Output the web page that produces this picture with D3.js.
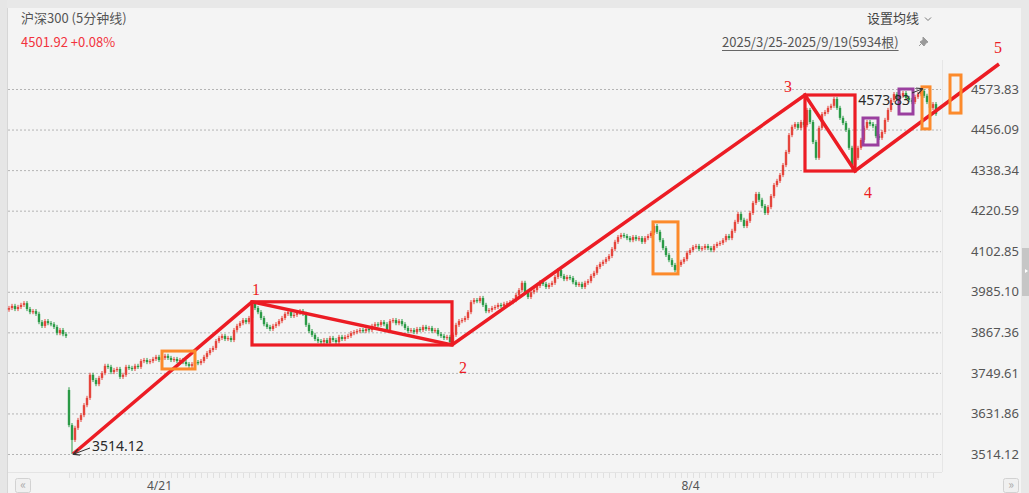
<!DOCTYPE html>
<html><head><meta charset="utf-8">
<script src="https://cdn.jsdelivr.net/npm/d3@7"></script>
<style>
html,body{margin:0;padding:0;background:#f4f4f4;overflow:hidden}
svg{display:block;font-family:"Noto Sans CJK SC","Noto Sans",sans-serif}
</style></head><body>
<svg id="chart" width="1029" height="493"></svg>
<script>
// ---- data (5-minute closes, sampled along the picture) ----
const closes = [
3938,3944,3935,3941,3947,3952,3935,3926,3929,3921,
3897,3886,3900,3894,3891,3883,3865,3874,3862,3857,
3598,3555,3590,3613,3627,3656,3677,3744,3729,3717,
3735,3749,3770,3767,3752,3758,3761,3738,3744,3767,
3764,3761,3770,3767,3784,3787,3781,3784,3790,3796,
3787,3793,3799,3793,3787,3790,3784,3787,3781,3775,
3770,3775,3781,3778,3784,3796,3807,3816,3822,3842,
3851,3857,3848,3851,3845,3874,3886,3894,3903,3897,
3909,3952,3938,3926,3909,3891,3883,3877,3886,3891,
3900,3909,3921,3926,3915,3918,3924,3929,3921,3889,
3871,3860,3848,3842,3839,3845,3836,3851,3845,3839,
3854,3848,3854,3857,3865,3868,3871,3874,3871,3877,
3874,3886,3891,3889,3897,3891,3874,3900,3903,3894,
3900,3891,3880,3871,3874,3868,3877,3874,3883,3877,
3880,3871,3874,3862,3857,3851,3854,3839,3860,3889,
3900,3903,3909,3926,3955,3961,3958,3967,3947,3929,
3932,3938,3941,3947,3944,3950,3952,3955,3961,3976,
3990,4011,3984,3970,3984,3990,4002,4013,4008,3999,
4005,4011,4028,4048,4031,4022,4028,4025,4013,4005,
4008,3999,4011,4016,4031,4040,4057,4066,4072,4080,
4089,4109,4130,4144,4150,4147,4141,4135,4144,4138,
4141,4130,4141,4147,4156,4176,4159,4135,4112,4092,
4077,4063,4048,4063,4072,4080,4098,4106,4115,4118,
4109,4112,4118,4112,4106,4118,4124,4127,4135,4147,
4141,4162,4188,4211,4194,4176,4191,4214,4243,4269,
4252,4234,4214,4231,4263,4295,4307,4324,4353,4391,
4440,4464,4472,4461,4478,4469,4513,4478,4420,4374,
4461,4501,4507,4519,4525,4545,4519,4490,4475,4455,
4403,4353,4374,4403,4426,4461,4478,4472,4466,4437,
4432,4449,4484,4513,4542,4559,4545,4554,4562,4548,
4542,4536,4551,4559,4568,4554,4536,4519,4530,4502
];
const firstOpen = 3933;
const gapIndex = [20];
const gapOpen = [3700];
const highIdx = [20, 81, 215, 304];
const highVal = [3708, 3958, 4182, 4573.83];
const lowIdx = [21, 147, 281];
const lowVal = [3514.12, 3833, 4338.6];

const yTicks = [3514.12, 3631.86, 3749.61, 3867.36, 3985.10, 4102.85, 4220.59, 4338.34, 4456.09, 4573.83];
const xTickIdx = [50, 227];
const xTickLabels = ["4/21", "8/4"];

// wave annotation points [index, price]
const wavePoints = [[21.33, 3514.12], [81, 3956], [147.67, 3830.6], [265.33, 4556.4], [282, 4335.7], [330, 4646.4]];
const waveLabels = ["1", "2", "3", "4", "5"];
const waveLabelPos = [[82.3, 3993], [151.3, 3764], [259.7, 4582], [286.3, 4272], [329.7, 4693]];
const orangeBoxes = [[51, 62, 3813, 3761], [214.67, 223, 4188, 4037], [304.33, 307, 4580, 4458], [313.67, 317.33, 4614.5, 4504]];
const purpleBoxes = [[284.67, 289.67, 4489.6, 4411.2], [296.67, 301.33, 4573.8, 4501.2]];
const lowMark = [21.33, 3514.12, "3514.12"];
const highMark = [304.33, 4573.83, "4573.83"];

// ---- drawing ----
const svg = d3.select("#chart");
const W = 1029, H = 493;
const x = d3.scaleLinear().domain([0, 310]).range([9, 939]);
const y = d3.scaleLinear().domain([3514.12, 4573.83]).range([454, 89]);

// frame
svg.append("rect").attr("width", W).attr("height", H).attr("fill", "#f4f4f4");
svg.append("rect").attr("x", 0).attr("y", 0).attr("width", W).attr("height", 8).attr("fill", "#e8e8e8");
svg.append("rect").attr("x", 0).attr("y", 0).attr("width", 7).attr("height", H).attr("fill", "#e6e6e6");
svg.append("line").attr("x1", 7.5).attr("x2", 7.5).attr("y1", 8).attr("y2", H).attr("stroke", "#d6d6d6");
svg.append("rect").attr("x", 1021).attr("y", 0).attr("width", 8).attr("height", H).attr("fill", "#e8e8e8");
svg.append("rect").attr("x", 1022).attr("y", 248).attr("width", 7).attr("height", 48).attr("fill", "#c6c6c6");
svg.append("path").attr("d", "M1025,269 l3,2 l-3,2 z").attr("fill", "#fff");
svg.append("line").attr("x1", 942.5).attr("x2", 942.5).attr("y1", 60).attr("y2", 472).attr("stroke", "#e6e6e6");
svg.append("line").attr("x1", 8).attr("x2", 942).attr("y1", 472.5).attr("y2", 472.5).attr("stroke", "#e4e4e4");

// grid
const grid = svg.append("g").attr("transform", "translate(8,0)")
  .call(d3.axisRight(y).tickValues(yTicks).tickSize(933).tickFormat(""));
grid.select(".domain").remove();
grid.selectAll("line").attr("stroke", "#b4b4b4").attr("stroke-dasharray", "2,2");

// right axis labels
const ya = svg.append("g").attr("transform", "translate(1019,0)")
  .call(d3.axisLeft(y).tickValues(yTicks).tickSize(0).tickPadding(0).tickFormat(d => d.toFixed(2)));
ya.select(".domain").remove();
ya.selectAll("text").attr("fill", "#555").attr("font-size", 13)
  .attr("font-family", "'Noto Sans','Noto Sans CJK SC',sans-serif");

// bottom small ticks
const smallTicks = d3.range(20, 310, 2);
svg.append("g").selectAll("line").data(smallTicks).join("line")
  .attr("x1", d => Math.round(x(d)) + 0.5).attr("x2", d => Math.round(x(d)) + 0.5)
  .attr("y1", 473).attr("y2", 478).attr("stroke", "#e0e0e0");

// x labels
const xa = svg.append("g").attr("transform", "translate(0,490)")
  .call(d3.axisBottom(x).tickValues(xTickIdx).tickSize(0).tickPadding(0).tickFormat((d, i) => xTickLabels[i]));
xa.select(".domain").remove();
xa.selectAll("text").attr("fill", "#555").attr("font-size", 12).attr("dy", 0).attr("y", 0)
  .attr("font-family", "'Noto Sans','Noto Sans CJK SC',sans-serif");

// scroll buttons
[[15, "«"], [1003, "»"]].forEach(([bx, t]) => {
  svg.append("rect").attr("x", bx + 0.5).attr("y", 478.5).attr("width", 15).attr("height", 14).attr("rx", 2)
    .attr("fill", "#f0f0f0").attr("stroke", "#d2d2d2");
  svg.append("text").attr("x", bx + 8).attr("y", 489).attr("text-anchor", "middle")
    .attr("font-size", 12).attr("fill", "#aaa").text(t);
});

// candles
const candles = closes.map((c, i) => {
  let o = i === 0 ? firstOpen : closes[i - 1];
  const g = gapIndex.indexOf(i);
  if (g >= 0) o = gapOpen[g];
  let hi = Math.max(o, c) + 6, lo = Math.min(o, c) - 6;
  const hI = highIdx.indexOf(i); if (hI >= 0) hi = highVal[hI];
  const lI = lowIdx.indexOf(i); if (lI >= 0) lo = lowVal[lI];
  return {i, o, c, hi, lo};
});
const up = "#e5453c", down = "#2a9a46";
const cg = svg.append("g");
cg.selectAll("line").data(candles).join("line")
  .attr("x1", d => x(d.i)).attr("x2", d => x(d.i))
  .attr("y1", d => y(d.hi)).attr("y2", d => y(d.lo))
  .attr("stroke", d => d.c >= d.o ? up : down).attr("stroke-width", 1);
cg.selectAll("rect").data(candles).join("rect")
  .attr("x", d => x(d.i) - 1.2).attr("width", 2.4)
  .attr("y", d => y(Math.max(d.o, d.c)))
  .attr("height", d => Math.max(1.2, Math.abs(y(d.o) - y(d.c))))
  .attr("fill", d => d.c >= d.o ? up : down);

// wave lines & boxes
const red = "#ec1c24";
const ann = svg.append("g");
ann.append("path")
  .attr("d", d3.line().x(d => x(d[0])).y(d => y(d[1]))(wavePoints))
  .attr("fill", "none").attr("stroke", red).attr("stroke-width", 3.5).attr("stroke-linejoin", "miter");
[[wavePoints[1], wavePoints[2]], [wavePoints[3], wavePoints[4]]].forEach(([a, b]) => {
  ann.append("rect")
    .attr("x", x(a[0])).attr("y", y(a[1]))
    .attr("width", x(b[0]) - x(a[0])).attr("height", y(b[1]) - y(a[1]))
    .attr("fill", "none").attr("stroke", red).attr("stroke-width", 3.2);
});
const drawBoxes = (arr, col) => ann.selectAll(null).data(arr).join("rect")
  .attr("x", d => x(d[0])).attr("y", d => y(d[2]))
  .attr("width", d => x(d[1]) - x(d[0])).attr("height", d => y(d[3]) - y(d[2]))
  .attr("fill", "none").attr("stroke", col).attr("stroke-width", 3);
drawBoxes(orangeBoxes, "#fc8a2b");
drawBoxes(purpleBoxes, "#9a3f9f");

ann.selectAll(null).data(waveLabels).join("text")
  .attr("x", (d, i) => x(waveLabelPos[i][0])).attr("y", (d, i) => y(waveLabelPos[i][1]))
  .attr("text-anchor", "middle").attr("dominant-baseline", "central")
  .attr("font-family", "'Liberation Serif','DejaVu Serif',serif").attr("font-size", 16)
  .attr("fill", red).text(d => d);

// extreme value marks with arrows
const defs = svg.append("defs");
defs.append("marker").attr("id", "ah").attr("viewBox", "0 0 8 8").attr("refX", 7).attr("refY", 4)
  .attr("markerWidth", 7).attr("markerHeight", 7).attr("orient", "auto")
  .append("path").attr("d", "M0,0 L8,4 L0,8").attr("fill", "none").attr("stroke", "#333").attr("stroke-width", 1.3);

const lx = x(lowMark[0]), ly = y(lowMark[1]);
ann.append("line").attr("x1", lx + 17).attr("y1", ly - 6).attr("x2", lx + 1).attr("y2", ly)
  .attr("stroke", "#333").attr("stroke-width", 1).attr("marker-end", "url(#ah)");
ann.append("text").attr("x", lx + 19).attr("y", ly - 3).attr("font-size", 14).attr("fill", "#2a2a2a")
  .attr("font-family", "'Noto Sans',sans-serif").text(lowMark[2]);

const hx = x(highMark[0]), hy = y(highMark[1]);
ann.append("line").attr("x1", hx - 10).attr("y1", hy + 4).attr("x2", hx).attr("y2", hy)
  .attr("stroke", "#333").attr("stroke-width", 1).attr("marker-end", "url(#ah)");
ann.append("text").attr("x", hx - 12).attr("y", hy + 16).attr("text-anchor", "end").attr("font-size", 14)
  .attr("fill", "#2a2a2a").attr("font-family", "'Noto Sans',sans-serif").text(highMark[2]);

// header
svg.append("text").attr("x", 21).attr("y", 23).attr("font-size", 13).attr("fill", "#555").text("沪深300 (5分钟线)");
svg.append("text").attr("x", 21).attr("y", 47).attr("font-size", 13).attr("fill", "#f2333d").text("4501.92 +0.08%");
svg.append("text").attr("x", 867).attr("y", 23).attr("font-size", 13).attr("fill", "#444").text("设置均线");
svg.append("path").attr("d", "M925,17.5 l3,3 l3,-3").attr("fill", "none").attr("stroke", "#777").attr("stroke-width", 1);
const rng = svg.append("text").attr("x", 722).attr("y", 47).attr("font-size", 13).attr("fill", "#555")
  .text("2025/3/25-2025/9/19(5934根)");
const rw = rng.node().getComputedTextLength();
svg.append("line").attr("x1", 722).attr("x2", 722 + rw).attr("y1", 50.5).attr("y2", 50.5).attr("stroke", "#666");
// pin icon
svg.append("path").attr("d", "M923,37 l5,5 l-2,1 l-2,3 l-4,-4 l3,-2 z M922,43 l-3,3")
  .attr("fill", "#9a9a9a").attr("stroke", "#9a9a9a").attr("stroke-width", 1);
</script>
</body></html>
